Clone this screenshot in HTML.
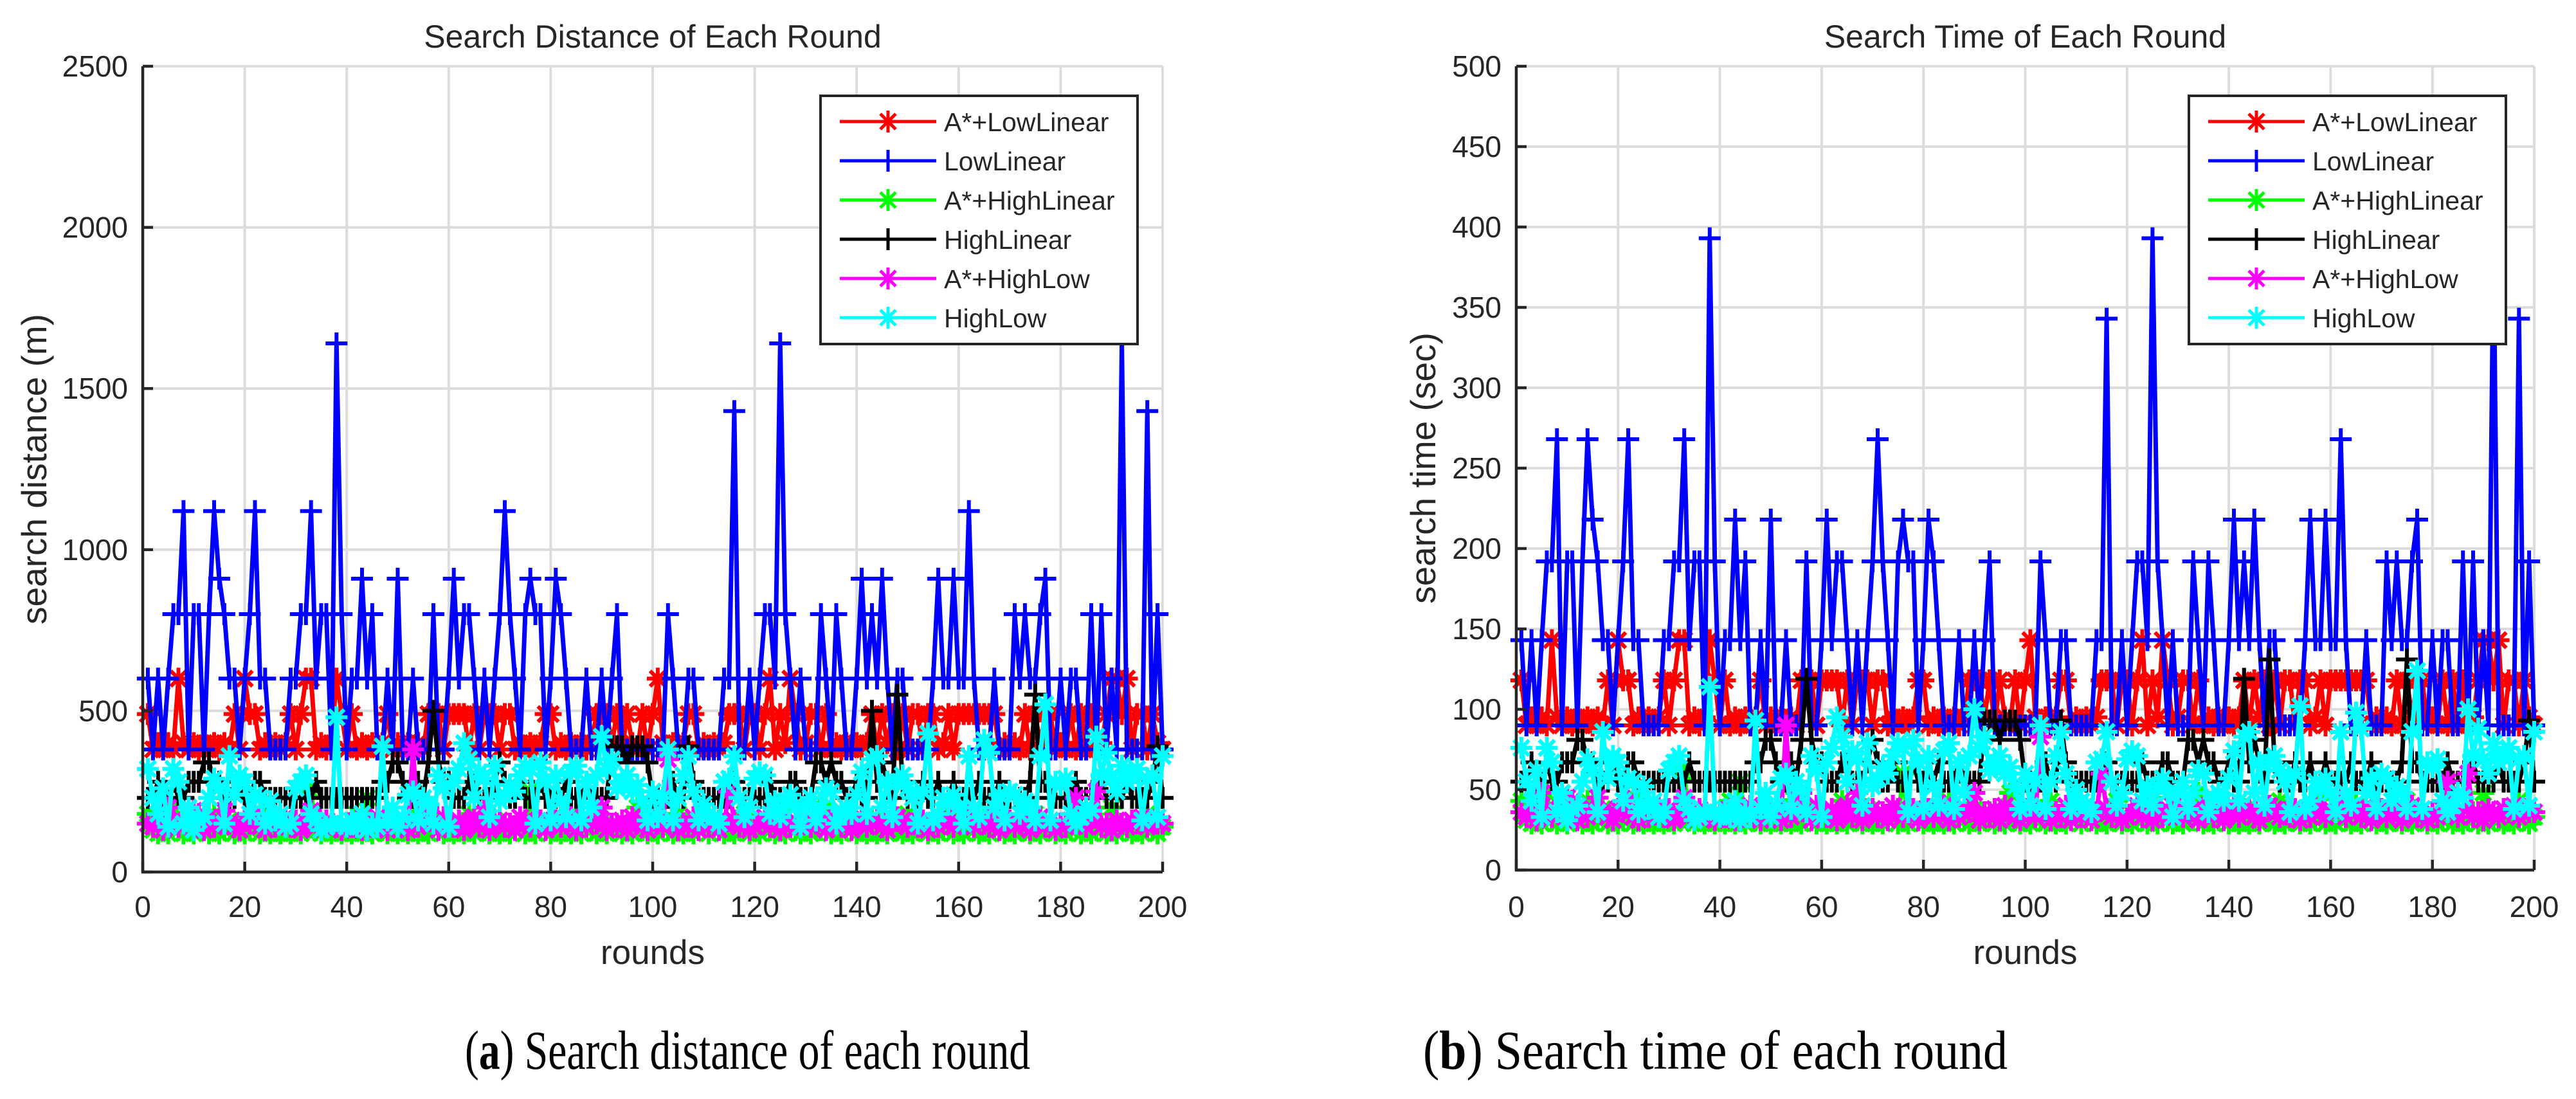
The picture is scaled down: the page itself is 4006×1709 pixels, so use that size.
<!DOCTYPE html>
<html><head><meta charset="utf-8"><title>Search Distance and Time</title>
<style>
html,body{margin:0;padding:0;background:#fff;}
svg{display:block;}
text{font-family:"Liberation Sans",Arial,sans-serif;fill:#262626;}
.cap{font-family:"Liberation Serif","Times New Roman",serif;fill:#000;}
</style></head>
<body>
<svg id="fig" width="4006" height="1709" viewBox="0 0 4006 1709" xmlns="http://www.w3.org/2000/svg">
<rect width="4006" height="1709" fill="#fff"/>
<g id="left"></g>
<g id="right"></g>
<text class="cap" x="723" y="1662" font-size="86" textLength="879" lengthAdjust="spacingAndGlyphs">(<tspan font-weight="bold">a</tspan>) Search distance of each round</text>
<text class="cap" x="2213" y="1662" font-size="86" textLength="909" lengthAdjust="spacingAndGlyphs">(<tspan font-weight="bold">b</tspan>) Search time of each round</text>
</svg>
<script>
const seriesNames = ["A*+LowLinear","LowLinear","A*+HighLinear","HighLinear","A*+HighLow","HighLow"];
const seriesColors = ["#ff0000","#0000ff","#00ff00","#000000","#ff00ff","#00ffff"];
const seriesMarkers = ["star","plus","star","plus","star","star"];
const xTicks = [0,20,40,60,80,100,120,140,160,180,200];
const distTicks = [0,500,1000,1500,2000,2500];
const timeTicks = [0,50,100,150,200,250,300,350,400,450,500];

const distRed = [490,380,400,380,400,380,600,400,380,400, 380,400,380,400,380,400,380,490,380,600, 490,490,380,400,380,400,380,400,490,380, 490,600,600,380,400,380,400,600,490,380, 490,380,400,380,400,380,400,490,380,400, 380,400,380,400,380,490,490,490,380,490, 490,490,490,380,490,380,490,490,490,380, 490,490,380,400,380,400,380,400,490,490, 380,400,380,400,380,400,380,400,490,490, 490,400,490,380,490,400,380,490,380,490, 600,400,380,400,380,400,490,490,380,400, 380,400,380,400,490,490,490,380,490,490, 380,490,600,380,490,400,600,490,380,400, 490,490,380,490,380,400,380,400,380,400, 380,400,490,380,490,400,490,380,490,380, 490,490,380,490,490,380,400,490,380,490, 490,490,490,490,490,490,490,380,400,380, 400,380,490,380,490,400,490,490,380,400, 380,490,380,490,380,490,380,400,490,600, 600,490,600,380,490,490,380,490,400,380];
const distBlue = [600,380,600,380,600,800,800,1120,380,800, 800,380,800,1120,910,800,600,600,380,600, 800,1120,600,600,380,380,380,380,600,600, 800,800,1120,600,800,800,380,1640,800,380, 600,600,910,600,800,380,380,600,380,910, 380,380,600,380,380,380,800,380,380,600, 910,600,800,800,600,380,600,380,600,800, 1120,800,600,380,800,910,800,800,380,600, 910,800,600,380,380,380,600,380,380,600, 380,600,800,380,380,380,380,380,380,380, 380,380,800,600,380,380,600,600,380,380, 380,380,380,600,600,1430,380,380,600,380, 600,800,800,600,1640,800,600,380,600,380, 380,380,800,600,380,800,600,380,380,600, 910,600,800,600,910,600,380,600,600,380, 380,380,380,380,600,910,600,600,910,600, 600,1120,600,380,380,380,600,380,380,380, 800,600,800,600,600,800,910,380,380,600, 380,600,600,380,380,800,380,800,380,600, 380,1640,380,380,380,380,1430,380,800,380];
const distGreen = [180,130,120,150,120,200,130,120,140,120, 150,130,120,180,120,130,160,120,140,120, 130,150,120,200,120,130,120,170,120,140, 120,130,250,130,120,150,120,130,120,140, 120,180,120,230,120,150,130,120,140,120, 130,120,160,120,200,120,130,150,120,140, 120,130,120,180,120,140,130,120,160,120, 130,120,140,150,120,250,120,130,140,120, 150,120,130,120,180,120,140,130,120,160, 120,130,150,120,140,120,200,130,120,140, 120,150,130,120,180,120,140,120,130,150, 120,130,160,120,140,120,130,180,120,140, 120,150,130,120,190,120,140,130,120,150, 120,140,130,200,120,150,120,130,140,120, 130,120,160,120,150,120,140,130,120,180, 120,130,150,120,140,120,130,200,120,140, 120,150,130,120,170,120,140,130,120,150, 120,140,130,120,180,120,150,130,120,140, 120,130,160,120,140,120,130,150,120,200, 120,140,130,120,150,120,180,130,120,140];
const distBlack = [230,230,280,230,230,280,230,230,280,280, 280,340,340,280,280,230,230,230,280,230, 230,280,280,230,230,230,230,230,230,230, 230,230,230,280,230,230,230,230,230,230, 230,230,230,230,230,230,280,280,340,340, 280,230,230,280,230,340,500,340,280,280, 230,230,230,280,280,230,230,230,280,340, 280,230,230,280,230,230,230,280,230,230, 230,230,280,230,230,230,280,230,230,230, 230,390,390,390,340,390,390,390,340,230, 230,230,230,280,230,230,390,280,230,230, 230,230,230,230,230,280,230,230,230,230, 230,230,280,230,230,230,280,280,230,230, 230,340,340,280,340,280,280,230,230,280, 230,230,500,280,340,280,230,550,280,230, 230,230,280,230,230,280,230,230,280,230, 230,230,230,280,230,230,230,280,230,230, 230,230,230,280,550,280,280,230,230,230, 230,230,280,230,230,230,230,280,230,230, 230,230,280,230,230,230,230,280,390,230];
const distMagenta = [150,140,180,130,200,160,140,150,200,190, 180,130,150,140,160,190,150,140,130,160, 150,180,140,130,160,140,150,170,140,160, 130,150,190,140,130,160,150,140,130,150, 140,160,130,150,140,170,150,130,160,140, 150,130,380,140,160,200,150,130,170,150, 140,160,130,150,170,140,200,130,150,160, 140,150,130,170,160,140,150,160,130,150, 160,140,150,170,130,150,140,160,150,200, 130,150,140,160,130,170,150,140,130,160, 150,140,350,160,130,150,140,170,130,150, 140,160,130,150,250,160,140,150,130,140, 150,170,140,160,130,150,140,160,170,150, 140,150,160,130,150,170,140,160,130,150, 170,140,150,160,140,130,150,170,160,140, 150,140,160,130,150,140,170,150,140,160, 150,180,140,160,150,140,170,130,150,160, 140,150,160,130,150,170,140,160,130,150, 140,160,230,150,140,160,250,140,150,130, 160,150,140,160,150,170,140,160,150,150];
const distCyan = [320,230,180,260,140,320,280,150,200,130, 160,170,230,290,260,150,360,240,300,280, 180,240,230,150,220,160,180,140,150,260, 280,300,180,160,130,140,150,480,150,140, 160,140,180,130,150,140,390,160,200,140, 170,240,250,160,230,210,150,300,260,140, 280,320,400,350,230,310,290,170,330,220, 240,270,250,300,330,320,150,340,280,160, 300,220,170,310,330,160,280,200,300,420, 320,350,260,280,300,250,270,220,160,250, 170,230,380,160,230,300,360,250,160,210, 180,170,150,280,290,360,230,170,200,290, 310,300,180,220,170,220,240,200,140,200, 230,160,200,260,250,150,190,200,180,240, 310,180,350,360,200,280,170,280,300,260, 230,150,250,430,160,180,230,210,240,200, 150,360,200,170,410,370,200,240,160,250, 240,180,220,200,160,360,520,160,280,270, 290,180,150,170,200,190,420,300,370,290, 250,330,280,300,320,160,290,300,170,360];

const timeRed = [118,90,95,90,95,90,143,95,90,95, 90,95,90,95,90,95,90,118,90,143, 118,118,90,95,90,95,90,95,118,90, 118,143,143,90,95,90,95,143,118,90, 118,90,95,90,95,90,95,118,90,95, 90,95,90,95,90,118,118,118,90,118, 118,118,118,90,118,90,118,118,118,90, 118,118,90,95,90,95,90,95,118,118, 90,95,90,95,90,95,90,95,118,118, 118,95,118,90,118,95,90,118,90,118, 143,95,90,95,90,95,118,118,90,95, 90,95,90,95,118,118,118,90,118,118, 90,118,143,90,118,95,143,118,90,95, 118,118,90,118,90,95,90,95,90,95, 90,95,118,90,118,95,118,90,118,90, 118,118,90,118,118,90,95,118,90,118, 118,118,118,118,118,118,118,90,95,90, 95,90,118,90,118,95,118,118,90,95, 90,118,90,118,90,118,90,95,118,143, 143,118,143,90,118,118,90,118,95,90];
const timeBlue = [143,90,143,90,143,192,192,268,90,192, 192,90,192,268,218,192,143,143,90,143, 192,268,143,143,90,90,90,90,143,143, 192,192,268,143,192,192,90,393,192,90, 143,143,218,143,192,90,90,143,90,218, 90,90,143,90,90,90,192,90,90,143, 218,143,192,192,143,90,143,90,143,192, 268,192,143,90,192,218,192,192,90,143, 218,192,143,90,90,90,143,90,90,143, 90,143,192,90,90,90,90,90,90,90, 90,90,192,143,90,90,143,143,90,90, 90,90,90,143,143,343,90,90,143,90, 143,192,192,143,393,192,143,90,143,90, 90,90,192,143,90,192,143,90,90,143, 218,143,192,143,218,143,90,143,143,90, 90,90,90,90,143,218,143,143,218,143, 143,268,143,90,90,90,143,90,90,90, 192,143,192,143,143,192,218,90,90,143, 90,143,143,90,90,192,90,192,90,143, 90,393,90,90,90,90,343,90,192,90];
const timeGreen = [43,31,29,36,29,48,31,29,33,29, 36,31,29,43,29,31,38,29,33,29, 31,36,29,48,29,31,29,40,29,33, 29,31,60,31,29,36,29,31,29,33, 29,43,29,55,29,36,31,29,33,29, 31,29,38,29,48,29,31,36,29,33, 29,31,29,43,29,33,31,29,38,29, 31,29,33,36,29,60,29,31,33,29, 36,29,31,29,43,29,33,31,29,38, 29,31,36,29,33,29,48,31,29,33, 29,36,31,29,43,29,33,29,31,36, 29,31,38,29,33,29,31,43,29,33, 29,36,31,29,45,29,33,31,29,36, 29,33,31,48,29,36,29,31,33,29, 31,29,38,29,36,29,33,31,29,43, 29,31,36,29,33,29,31,48,29,33, 29,36,31,29,40,29,33,31,29,36, 29,33,31,29,43,29,36,31,29,33, 29,31,38,29,33,29,31,36,29,48, 29,33,31,29,36,29,43,31,29,33];
const timeBlack = [55,55,67,55,55,67,55,55,67,67, 67,81,81,67,67,55,55,55,67,55, 55,67,67,55,55,55,55,55,55,55, 55,55,55,67,55,55,55,55,55,55, 55,55,55,55,55,55,67,67,81,81, 67,55,55,67,55,81,119,81,67,67, 55,55,55,67,67,55,55,55,67,81, 67,55,55,67,55,55,55,67,55,55, 55,55,67,55,55,55,67,55,55,55, 55,93,93,93,81,93,93,93,81,55, 55,55,55,67,55,55,93,67,55,55, 55,55,55,55,55,67,55,55,55,55, 55,55,67,55,55,55,67,67,55,55, 55,81,81,67,81,67,67,55,55,67, 55,55,119,67,81,67,55,131,67,55, 55,55,67,55,55,67,55,55,67,55, 55,55,55,67,55,55,55,67,55,55, 55,55,55,67,131,67,67,55,55,55, 55,55,67,55,55,55,55,67,55,55, 55,55,67,55,55,55,55,67,93,55];
const timeMagenta = [36,33,43,31,48,38,33,36,48,45, 43,31,36,33,38,45,36,33,31,38, 36,43,33,31,38,33,36,40,33,38, 31,36,45,33,31,38,36,33,31,36, 33,38,31,36,33,40,36,31,38,33, 36,31,90,33,38,48,36,31,40,36, 33,38,31,36,40,33,48,31,36,38, 33,36,31,40,38,33,36,38,31,36, 38,33,36,40,31,36,33,38,36,48, 31,36,33,38,31,40,36,33,31,38, 36,33,83,38,31,36,33,40,31,36, 33,38,31,36,60,38,33,36,31,33, 36,40,33,38,31,36,33,38,40,36, 33,36,38,31,36,40,33,38,31,36, 40,33,36,38,33,31,36,40,38,33, 36,33,38,31,36,33,40,36,33,38, 36,43,33,38,36,33,40,31,36,38, 33,36,38,31,36,40,33,38,31,36, 33,38,55,36,33,38,60,33,36,31, 38,36,33,38,36,40,33,38,36,36];
const timeCyan = [76,55,43,62,33,76,67,36,48,31, 38,40,55,69,62,36,86,57,71,67, 43,57,55,36,52,38,43,33,36,62, 67,71,43,38,31,33,36,114,36,33, 38,33,43,31,36,33,93,38,48,33, 40,57,60,38,55,50,36,71,62,33, 67,76,95,83,55,74,69,40,79,52, 57,64,60,71,79,76,36,81,67,38, 71,52,40,74,79,38,67,48,71,100, 76,83,62,67,71,60,64,52,38,60, 40,55,90,38,55,71,86,60,38,50, 43,40,36,67,69,86,55,40,48,69, 74,71,43,52,40,52,57,48,33,48, 55,38,48,62,60,36,45,48,43,57, 74,43,83,86,48,67,40,67,71,62, 55,36,60,102,38,43,55,50,57,48, 36,86,48,40,98,88,48,57,38,60, 57,43,52,48,38,86,124,38,67,64, 69,43,36,40,48,45,100,71,88,69, 60,79,67,71,76,38,69,71,40,86];

const NS = "http://www.w3.org/2000/svg";
function el(tag, attrs, parent){
  const e = document.createElementNS(NS, tag);
  for (const k in attrs) e.setAttribute(k, attrs[k]);
  if (parent) parent.appendChild(e);
  return e;
}

function drawChart(g, cfg){
  const xs = v => cfg.x0 + (v - 0) / 200 * (cfg.x1 - cfg.x0);
  const ys = v => cfg.yb - v / cfg.ymax * (cfg.yb - cfg.yt);
  const grid = el("g", {stroke:"#dcdcdc","stroke-width":4}, g);
  
  
  xTicks.forEach(t => { if (t>0) el("line",{x1:xs(t),x2:xs(t),y1:cfg.yt,y2:cfg.yb},grid); });
  cfg.yTicks.forEach(t => { if (t>0) el("line",{x1:cfg.x0,x2:cfg.x1,y1:ys(t),y2:ys(t)},grid); });
  [0,1,2,3,4,5].forEach(si => {
    const vals = cfg.data[si];
    const sg = el("g", {}, g);
    
    
    let d = "";
    vals.forEach((v,i) => { d += (i? "L":"M") + xs(i+1).toFixed(1) + " " + ys(v).toFixed(1); });
    const ln = el("path", {d:d, fill:"none", stroke:seriesColors[si], "stroke-width":7, "stroke-linejoin":"round"}, sg);
    
    
    let m = "";
    const s = 17, s2 = 12;
    vals.forEach((v,i) => {
      const x = xs(i+1), y = ys(v);
      m += `M${(x-s).toFixed(1)} ${y.toFixed(1)}h${2*s}M${x.toFixed(1)} ${(y-s).toFixed(1)}v${2*s}`;
      if (seriesMarkers[si] === "star") m += `M${(x-s2).toFixed(1)} ${(y-s2).toFixed(1)}l${2*s2} ${2*s2}M${(x-s2).toFixed(1)} ${(y+s2).toFixed(1)}l${2*s2} ${-2*s2}`;
    });
    const mk = el("path", {d:m, fill:"none", stroke:seriesColors[si], "stroke-width":6}, sg);
    
    
  });
  const ax = el("path", {d:`M${cfg.x0} ${cfg.yt}V${cfg.yb}H${cfg.x1}`, fill:"none", stroke:"#262626","stroke-width":4.5}, g);
  
  
  const tk = el("g", {stroke:"#262626","stroke-width":4.5}, g);
  
  
  xTicks.forEach(t => el("line",{x1:xs(t),x2:xs(t),y1:cfg.yb,y2:cfg.yb-16},tk));
  cfg.yTicks.forEach(t => el("line",{x1:cfg.x0,x2:cfg.x0+16,y1:ys(t),y2:ys(t)},tk));
  xTicks.forEach(t => {
    const tx = el("text",{x:xs(t),y:1426,"font-size":46,"text-anchor":"middle"},g);
    tx.textContent = t;
    
    
  });
  cfg.yTicks.forEach(t => {
    const tx = el("text",{x:cfg.x0-23,y:ys(t)+16,"font-size":46,"text-anchor":"end"},g);
    tx.textContent = t;
    
    
  });
  const cx = (cfg.x0+cfg.x1)/2;
  const ti = el("text",{x:cx,y:74,"font-size":50,"text-anchor":"middle",fill:"#000"},g);
  ti.textContent = cfg.title;
  
  
  const xl = el("text",{x:cx,y:1499,"font-size":53,"text-anchor":"middle"},g);
  xl.textContent = "rounds";
  
  
  const ylc = (cfg.yt+cfg.yb)/2;
  const yl = el("text",{x:0,y:0,"font-size":55,"text-anchor":"middle",transform:`translate(${cfg.ylx},${ylc}) rotate(-90)`},g);
  yl.textContent = cfg.ylabel;
  
  
  const lg = el("g", {}, g);
  
  
  el("rect",{x:cfg.lx,y:149,width:493,height:386,fill:"#fff",stroke:"#262626","stroke-width":4},lg);
  seriesNames.forEach((n,i) => {
    const yy = 189 + i*61;
    const e = el("g",{},lg);
    
    
    el("line",{x1:cfg.lx+30,x2:cfg.lx+180,y1:yy,y2:yy,stroke:seriesColors[i],"stroke-width":5},e);
    const mx = cfg.lx+105, s=17, s2=12;
    let m = `M${mx-s} ${yy}h${2*s}M${mx} ${yy-s}v${2*s}`;
    if (seriesMarkers[i]==="star") m += `M${mx-s2} ${yy-s2}l${2*s2} ${2*s2}M${mx-s2} ${yy+s2}l${2*s2} ${-2*s2}`;
    el("path",{d:m,stroke:seriesColors[i],"stroke-width":5,fill:"none"},e);
    const t = el("text",{x:cfg.lx+192,y:yy+15,"font-size":41,fill:"#000"},e);
    t.textContent = n;
  });
}

drawChart(document.getElementById("left"), {x0:222,x1:1808,yt:103,yb:1356,ymax:2500,yTicks:distTicks,
  data:[distRed,distBlue,distGreen,distBlack,distMagenta,distCyan],title:"Search Distance of Each Round",
  ylabel:"search distance (m)",ylx:72,lx:1276});
drawChart(document.getElementById("right"), {x0:2358,x1:3941,yt:103,yb:1353,ymax:500,yTicks:timeTicks,
  data:[timeRed,timeBlue,timeGreen,timeBlack,timeMagenta,timeCyan],title:"Search Time of Each Round",
  ylabel:"search time (sec)",ylx:2232,lx:3404});
</script>
</body></html>
